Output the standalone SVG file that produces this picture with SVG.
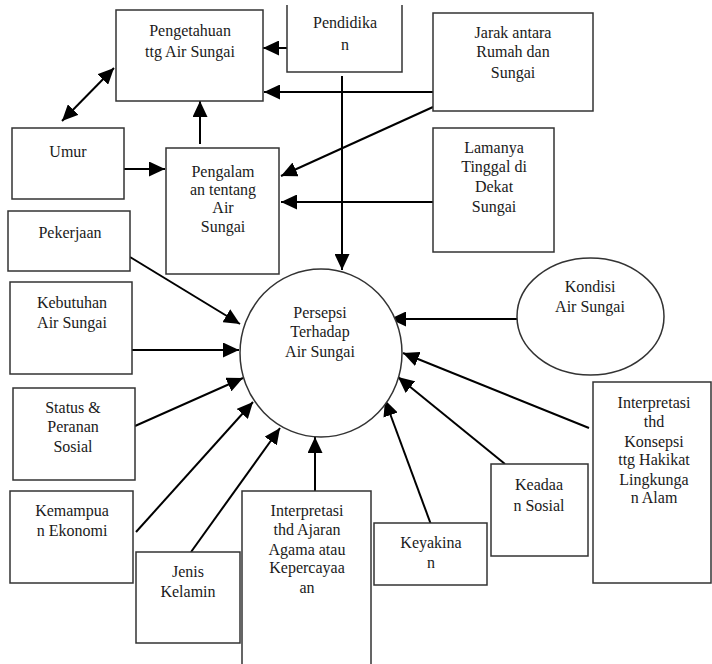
<svg xmlns="http://www.w3.org/2000/svg" width="712" height="664" viewBox="0 0 712 664">
<style>
.box{fill:#fff;stroke:#333;stroke-width:1.5}
.t{font-size:16px;fill:#1a1a1a;text-anchor:middle}
.c{stroke:#000;stroke-width:2;fill:none}
.a{marker-end:url(#ah)}
</style>
<defs>
<marker id="ah" markerUnits="userSpaceOnUse" markerWidth="17" markerHeight="15" refX="16" refY="7.5" orient="auto-start-reverse" viewBox="0 0 17 15">
<path d="M0,0 L16,7.5 L0,15 Z" fill="#000"/>
</marker>
</defs>
<rect width="712" height="664" fill="#fff"/>
<g id="connectors">
<line class="c a" x1="287" y1="48" x2="263" y2="48"/>
<line class="c a" x1="433" y1="92" x2="264" y2="92"/>
<line class="c a" x1="342" y1="76" x2="342" y2="270"/>
<line class="c a" x1="62" y1="121" x2="114" y2="68" style="marker-start:url(#ah)"/>
<line class="c a" x1="200" y1="144" x2="200" y2="101"/>
<line class="c a" x1="122" y1="169" x2="165" y2="169"/>
<line class="c a" x1="433" y1="107" x2="281" y2="176"/>
<line class="c a" x1="433" y1="202" x2="281" y2="202"/>
<line class="c a" x1="130" y1="257" x2="240" y2="324"/>
<line class="c a" x1="132" y1="350" x2="239" y2="350"/>
<line class="c a" x1="135" y1="426" x2="243" y2="378"/>
<line class="c a" x1="136" y1="532" x2="253" y2="402"/>
<line class="c a" x1="191" y1="552" x2="280" y2="428"/>
<line class="c a" x1="315" y1="491" x2="315" y2="437"/>
<line class="c a" x1="433" y1="530" x2="385" y2="400"/>
<line class="c a" x1="505" y1="464" x2="398" y2="377"/>
<line class="c a" x1="589" y1="428" x2="403" y2="353"/>
<line class="c a" x1="517" y1="319" x2="390" y2="319"/>
</g>
<g font-family="Liberation Serif, Times New Roman, DejaVu Serif, serif">
<g id="pengetahuan">
<rect class="box" x="116" y="10" width="147" height="91"/>
<text class="t" x="190" y="36">Pengetahuan</text>
<text class="t" x="190" y="57">ttg Air Sungai</text>
</g>
<g id="pendidikan">
<path class="box" d="M287,5 V72 H402 V5"/>
<text class="t" x="345" y="28">Pendidika</text>
<text class="t" x="345" y="50">n</text>
</g>
<g id="jarak">
<rect class="box" x="433" y="13" width="160" height="98"/>
<text class="t" x="513" y="38">Jarak antara</text>
<text class="t" x="513" y="57">Rumah dan</text>
<text class="t" x="513" y="78">Sungai</text>
</g>
<g id="umur">
<rect class="box" x="12" y="128" width="112" height="71"/>
<text class="t" x="68" y="157">Umur</text>
</g>
<g id="pengalaman">
<rect class="box" x="166" y="148" width="113" height="126"/>
<text class="t" x="223" y="177">Pengalam</text>
<text class="t" x="223" y="195">an tentang</text>
<text class="t" x="223" y="213">Air</text>
<text class="t" x="223" y="232">Sungai</text>
</g>
<g id="lamanya">
<rect class="box" x="433" y="128" width="121" height="124"/>
<text class="t" x="494" y="153">Lamanya</text>
<text class="t" x="494" y="172">Tinggal di</text>
<text class="t" x="494" y="192">Dekat</text>
<text class="t" x="494" y="212">Sungai</text>
</g>
<g id="pekerjaan">
<rect class="box" x="8" y="211" width="122" height="60"/>
<text class="t" x="70" y="238">Pekerjaan</text>
</g>
<g id="kebutuhan">
<rect class="box" x="10" y="282" width="122" height="92"/>
<text class="t" x="72" y="308">Kebutuhan</text>
<text class="t" x="72" y="328">Air Sungai</text>
</g>
<g id="persepsi">
<ellipse cx="321" cy="353" rx="81" ry="84" fill="#fff" stroke="#333" stroke-width="1.5"/>
<text class="t" x="320" y="318">Persepsi</text>
<text class="t" x="320" y="337">Terhadap</text>
<text class="t" x="320" y="357">Air Sungai</text>
</g>
<g id="kondisi">
<ellipse cx="590.5" cy="316.5" rx="73.5" ry="58.5" fill="#fff" stroke="#333" stroke-width="1.5"/>
<text class="t" x="590" y="292">Kondisi</text>
<text class="t" x="590" y="312">Air Sungai</text>
</g>
<g id="status">
<rect class="box" x="13" y="388" width="122" height="92"/>
<text class="t" x="73" y="413">Status &amp;</text>
<text class="t" x="73" y="432">Peranan</text>
<text class="t" x="73" y="452">Sosial</text>
</g>
<g id="kemampuan">
<rect class="box" x="10" y="491" width="123" height="92"/>
<text class="t" x="72" y="516">Kemampua</text>
<text class="t" x="72" y="536">n Ekonomi</text>
</g>
<g id="jenis">
<rect class="box" x="136" y="552" width="104" height="91"/>
<text class="t" x="188" y="577">Jenis</text>
<text class="t" x="188" y="597">Kelamin</text>
</g>
<g id="agama">
<rect class="box" x="242" y="491" width="129" height="190"/>
<text class="t" x="307" y="516">Interpretasi</text>
<text class="t" x="307" y="535">thd Ajaran</text>
<text class="t" x="307" y="555">Agama atau</text>
<text class="t" x="307" y="573">Kepercayaa</text>
<text class="t" x="307" y="593">an</text>
</g>
<g id="keyakinan">
<rect class="box" x="374" y="523" width="113" height="62"/>
<text class="t" x="431" y="548">Keyakina</text>
<text class="t" x="431" y="568">n</text>
</g>
<g id="keadaan">
<rect class="box" x="491" y="464" width="97" height="92"/>
<text class="t" x="539" y="490">Keadaa</text>
<text class="t" x="539" y="511">n Sosial</text>
</g>
<g id="konsepsi">
<rect class="box" x="593" y="382" width="118" height="201"/>
<text class="t" x="654" y="408">Interpretasi</text>
<text class="t" x="654" y="427">thd</text>
<text class="t" x="654" y="447">Konsepsi</text>
<text class="t" x="654" y="465">ttg Hakikat</text>
<text class="t" x="654" y="485">Lingkunga</text>
<text class="t" x="654" y="503">n Alam</text>
</g>
</g>
</svg>
